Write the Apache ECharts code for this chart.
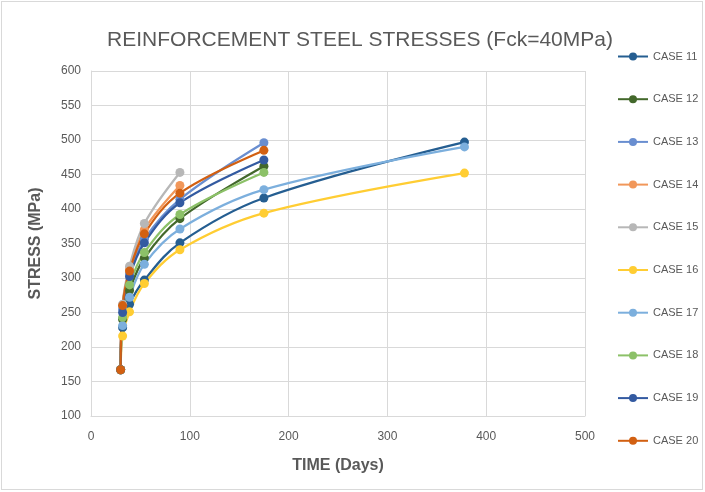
<!DOCTYPE html>
<html>
<head>
<meta charset="utf-8">
<script src="https://cdn.jsdelivr.net/npm/echarts@6/dist/echarts.min.js"></script>
<style>
  html, body { margin: 0; padding: 0; background: #fff; }
  #main { position: absolute; left: 1px; top: 1px; width: 700px; height: 487px; border: 1px solid #d9d9d9; }
</style>
</head>
<body>
<div id="main"></div>
<script>
// 时间 (days)
const days = [30, 32, 39, 54, 90, 175, 378];

// stress values, one list per case (same order as days)
const case11 = [167, 228, 262, 297, 351, 416, 497];
const case12 = [167, 240, 282, 329, 386, 462];
const case13 = [167, 255, 306, 356, 414, 496];
const case14 = [167, 261, 313, 370, 434];
const case15 = [167, 262, 317, 379, 453];
const case16 = [167, 216, 251, 292, 341, 394, 452];
const case17 = [167, 231, 272, 320, 371, 428, 490];
const case18 = [167, 243, 290, 337, 392, 453];
const case19 = [167, 250, 302, 351, 409, 471];
const case20 = [167, 260, 310, 364, 423, 485];

const caseNames = ['CASE 11', 'CASE 12', 'CASE 13', 'CASE 14', 'CASE 15',
                   'CASE 16', 'CASE 17', 'CASE 18', 'CASE 19', 'CASE 20'];
const caseValues = [case11, case12, case13, case14, case15,
                    case16, case17, case18, case19, case20];
const colors = ['#255E91', '#43682B', '#698ED0', '#F1975A', '#B7B7B7',
                '#FFCD33', '#7CAFDD', '#8CC168', '#335AA1', '#D26012'];

const chart = echarts.init(document.getElementById('main'));

const series = caseNames.map(function (name, i) {
    return {
        name: name,
        type: 'line',
        smooth: 0.35,
        symbol: 'circle',
        symbolSize: 9,
        lineStyle: { width: 2.25, color: colors[i] },
        itemStyle: { color: colors[i] },
        data: caseValues[i].map(function (v, k) { return [days[k], v]; })
    };
});

const option = {
    animation: false,
    color: colors,
    title: {
        text: 'REINFORCEMENT STEEL STRESSES (Fck=40MPa)',
        left: 353,
        textAlign: 'center',
        top: 23,
        textStyle: { fontFamily: 'Liberation Sans', fontSize: 21, fontWeight: 'normal', color: '#595959' }
    },
    legend: {
        orient: 'vertical',
        left: 615,
        top: 49,
        padding: 0,
        itemWidth: 30,
        itemHeight: 10,
        itemGap: 31.7,
        textStyle: { fontFamily: 'Liberation Sans', fontSize: 11, color: '#595959' },
        data: caseNames
    },
    grid: { left: 89, right: 117, top: 69, bottom: 73 },
    xAxis: {
        type: 'value',
        min: 0, max: 500, interval: 100,
        name: 'TIME (Days)',
        nameLocation: 'middle',
        nameGap: 42,
        nameTextStyle: { fontFamily: 'Liberation Sans', fontSize: 16, fontWeight: 'bold', color: '#595959' },
        axisLine: { lineStyle: { color: '#d9d9d9' } },
        axisTick: { show: false },
        axisLabel: { fontFamily: 'Liberation Sans', fontSize: 12, color: '#595959', margin: 15 },
        splitLine: { show: true, lineStyle: { color: '#d9d9d9', width: 1 } }
    },
    yAxis: {
        type: 'value',
        min: 100, max: 600, interval: 50,
        name: 'STRESS (MPa)',
        nameLocation: 'middle',
        nameGap: 47,
        nameTextStyle: { fontFamily: 'Liberation Sans', fontSize: 16, fontWeight: 'bold', color: '#595959' },
        axisLine: { show: true, lineStyle: { color: '#d9d9d9' } },
        axisTick: { show: false },
        axisLabel: { fontFamily: 'Liberation Sans', fontSize: 12, color: '#595959', margin: 10 },
        splitLine: { show: true, lineStyle: { color: '#d9d9d9', width: 1 } }
    },
    series: series
};

chart.setOption(option);
</script>
</body>
</html>
